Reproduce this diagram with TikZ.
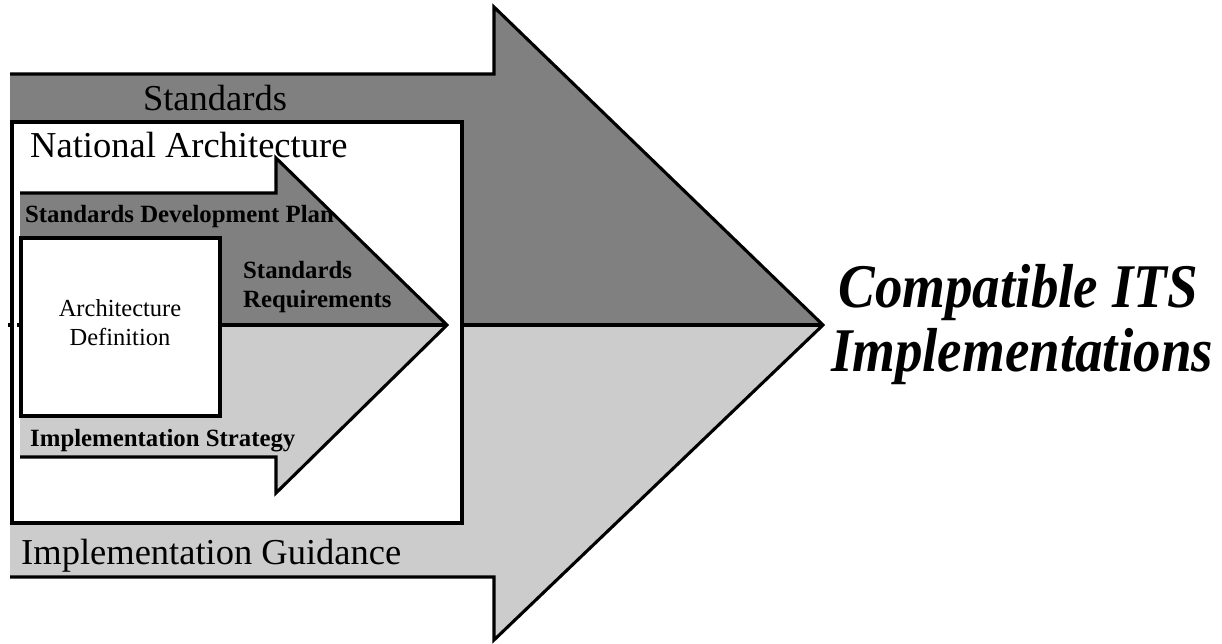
\documentclass[tikz,border=0pt]{standalone}
\usepackage{fontspec}
\setmainfont{Liberation Serif}
\definecolor{darkgr}{RGB}{128,128,128}
\definecolor{lightgr}{RGB}{204,204,204}
\tikzset{
  outl/.style={draw=black, line width=3.1pt, line join=miter},
  bigtxt/.style={font=\fontsize{36.5}{40}\selectfont, inner sep=0pt},
  smalltxt/.style={font=\fontsize{24.8}{28}\selectfont\bfseries, inner sep=0pt},
  midtxt/.style={font=\fontsize{24.5}{28}\selectfont, inner sep=0pt},
  hugetxt/.style={font=\fontsize{55}{60}\selectfont\bfseries\itshape, inner sep=0pt}
}
\begin{document}
\begin{tikzpicture}[x=1pt,y=-1pt]
\useasboundingbox (0,0) rectangle (1222,643);
% big arrow
\fill[darkgr] (10,74) -- (494,74) -- (494,7) -- (823,325) -- (10,325) -- cycle;
\fill[lightgr] (10,325) -- (823,325) -- (494,640) -- (494,577) -- (10,577) -- cycle;
\draw[outl] (10,74) -- (494,74) -- (494,7) -- (823,325) -- (494,640) -- (494,577) -- (10,577);
\coordinate (bigtip) at (823,325);
\coordinate (bigmid) at (8,325);
\draw[outl] (bigmid) -- (bigtip);
% national architecture box
\draw[outl, fill=white] (12,122) rectangle (462,523);
% small arrow
\fill[darkgr] (20,193) -- (276,193) -- (276,158) -- (447,325) -- (20,325) -- cycle;
\fill[lightgr] (20,325) -- (447,325) -- (276,493) -- (276,457) -- (20,457) -- cycle;
\draw[outl] (20,193) -- (276,193) -- (276,158) -- (447,325) -- (276,493) -- (276,457) -- (20,457);
\coordinate (smalltip) at (447,325);
\coordinate (smallmid) at (17,325);
\draw[outl] (smallmid) -- (smalltip);
% architecture definition box
\draw[outl, fill=white] (21,238) rectangle (220,416);
% texts
\node[bigtxt, anchor=base] (std) at (215,110) {Standards};
\node[bigtxt, anchor=base west] (nat) at (30,157) {National Architecture};
\node[bigtxt, anchor=base west] (guid) at (21,564) {Implementation Guidance};
\node[smalltxt, anchor=base west] (sdp) at (25,222) {Standards Development Plan};
\node[smalltxt, anchor=base west] (sr1) at (243,278) {Standards};
\node[smalltxt, anchor=base west] (sr2) at (243,307) {Requirements};
\node[midtxt, anchor=base] (ad1) at (120,316) {Architecture};
\node[midtxt, anchor=base] (ad2) at (120,345) {Definition};
\node[smalltxt, anchor=base west] (is) at (30,446) {Implementation Strategy};
\node[hugetxt, anchor=base] (c1) at (1018,307) {\scalebox{1}[1.13]{Compatible ITS}};
\node[hugetxt, anchor=base] (c2) at (1022,371) {\scalebox{1}[1.13]{Implementations}};
\end{tikzpicture}
\end{document}
